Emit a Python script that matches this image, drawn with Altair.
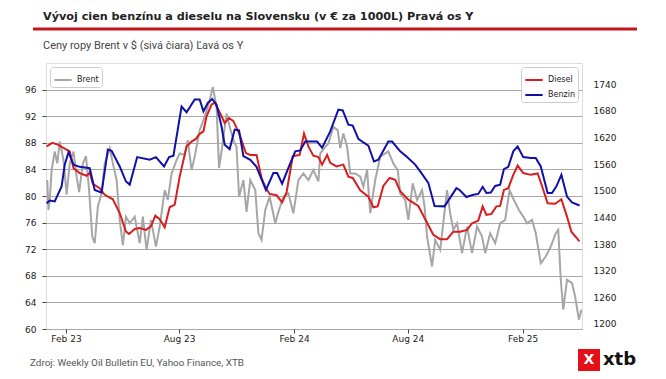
import altair as alt
import pandas as pd

TITLE = "Vývoj cien benzínu a dieselu na Slovensku (v € za 1000L) Pravá os Y"
SUBTITLE = "Ceny ropy Brent v $ (sivá čiara) Ľavá os Y"
SOURCE = "Zdroj: Weekly Oil Bulletin EU, Yahoo Finance, XTB"

benzin_dates = ["2023-01-01","2023-01-06","2023-01-14","2023-01-25","2023-01-30","2023-02-05","2023-02-13","2023-02-23",
    "2023-03-11","2023-03-19","2023-03-30","2023-04-09","2023-04-15","2023-04-28","2023-05-08","2023-05-14","2023-05-26",
    "2023-06-15","2023-06-25","2023-07-08","2023-07-16","2023-07-23","2023-08-05","2023-08-13","2023-08-26","2023-09-03",
    "2023-09-09","2023-09-16","2023-09-23","2023-09-30","2023-10-08","2023-10-13","2023-10-21","2023-10-29","2023-11-05",
    "2023-11-12","2023-11-23","2023-12-03","2023-12-18","2023-12-30","2024-01-05","2024-01-13","2024-01-24","2024-02-03",
    "2024-02-11","2024-02-19","2024-03-09","2024-03-17","2024-03-30","2024-04-12","2024-04-19","2024-04-28","2024-05-05",
    "2024-05-14","2024-05-22","2024-05-30","2024-06-08","2024-06-15","2024-07-01","2024-07-07","2024-07-20","2024-07-31",
    "2024-08-13","2024-08-21","2024-09-03","2024-09-13","2024-09-29","2024-10-18","2024-10-23","2024-11-03","2024-11-14",
    "2024-11-22","2024-11-29","2024-12-05","2024-12-12","2024-12-19","2024-12-27","2025-01-02","2025-01-09","2025-01-17",
    "2025-01-24","2025-02-02","2025-02-14","2025-02-22","2025-03-02","2025-03-13","2025-03-20","2025-03-27","2025-04-04",
    "2025-04-13","2025-04-21","2025-05-03"]
benzin_values = [1472,1478,1476,1510,1559,1587,1559,1554,1551,1502,1496,1593,1590,1555,1521,1514,1576,1570,1576,1555,
    1576,1579,1690,1677,1706,1706,1679,1698,1707,1694,1645,1604,1594,1638,1636,1578,1570,1554,1502,1540,1540,1516,1555,
    1589,1591,1611,1611,1597,1634,1683,1681,1649,1647,1617,1609,1602,1566,1570,1611,1611,1589,1576,1559,1544,1518,1466,
    1465,1506,1502,1486,1491,1493,1509,1495,1496,1511,1514,1549,1554,1589,1600,1576,1574,1574,1555,1495,1495,1510,1536,
    1487,1474,1467]

diesel_dates = ["2023-01-01","2023-01-10","2023-01-19","2023-01-25","2023-02-07","2023-02-13","2023-02-23","2023-03-06",
    "2023-03-11","2023-03-16","2023-03-27","2023-04-04","2023-04-17","2023-04-28","2023-05-08","2023-05-13","2023-05-22",
    "2023-05-30","2023-06-09","2023-06-17","2023-06-24","2023-07-01","2023-07-09","2023-07-17","2023-07-25","2023-08-02",
    "2023-08-13","2023-08-21","2023-08-28","2023-09-02","2023-09-09","2023-09-14","2023-09-22","2023-09-27","2023-10-05",
    "2023-10-13","2023-10-20","2023-10-27","2023-11-05","2023-11-16","2023-11-23","2023-12-03","2023-12-11","2023-12-18",
    "2023-12-24","2024-01-04","2024-01-13","2024-01-20","2024-01-30","2024-02-10","2024-02-17","2024-02-24","2024-03-03",
    "2024-03-11","2024-03-17","2024-03-25","2024-03-30","2024-04-09","2024-04-20","2024-04-28","2024-05-05","2024-05-17",
    "2024-05-30","2024-06-07","2024-06-14","2024-06-23","2024-07-03","2024-07-12","2024-07-20","2024-08-02","2024-08-18",
    "2024-08-29","2024-09-11","2024-09-22","2024-10-03","2024-10-13","2024-10-24","2024-11-04","2024-11-12","2024-11-22",
    "2024-11-29","2024-12-05","2024-12-13","2024-12-21","2024-12-27","2025-01-02","2025-01-09","2025-01-17","2025-01-24",
    "2025-02-02","2025-02-14","2025-02-25","2025-03-04","2025-03-13","2025-03-25","2025-04-04","2025-04-13","2025-04-20",
    "2025-05-03"]
diesel_values = [1600,1608,1604,1599,1589,1551,1540,1534,1541,1516,1506,1491,1481,1450,1408,1403,1414,1416,1412,1420,
    1444,1436,1418,1463,1469,1532,1600,1611,1617,1627,1634,1668,1694,1699,1677,1653,1664,1657,1630,1585,1581,1581,1529,
    1506,1493,1490,1474,1496,1578,1581,1629,1600,1579,1576,1559,1581,1563,1555,1559,1532,1529,1501,1487,1463,1465,1511,
    1529,1525,1499,1480,1466,1436,1401,1391,1391,1408,1408,1412,1427,1433,1465,1446,1448,1465,1466,1502,1506,1536,1557,
    1540,1536,1539,1511,1472,1471,1481,1442,1408,1386]

brent_dates = ["2023-01-02","2023-01-04","2023-01-06","2023-01-09","2023-01-14","2023-01-18","2023-01-22","2023-01-28",
    "2023-02-02","2023-02-07","2023-02-13","2023-02-18","2023-02-22","2023-02-28","2023-03-05","2023-03-10","2023-03-15",
    "2023-03-19","2023-03-24","2023-03-30","2023-04-04","2023-04-12","2023-04-17","2023-04-23","2023-04-28","2023-05-03",
    "2023-05-08","2023-05-14","2023-05-22","2023-05-30","2023-06-04","2023-06-10","2023-06-17","2023-06-25","2023-07-01",
    "2023-07-09","2023-07-14","2023-07-20","2023-07-28","2023-08-02","2023-08-10","2023-08-15","2023-08-21","2023-08-26",
    "2023-09-03","2023-09-11","2023-09-19","2023-09-24","2023-09-30","2023-10-04","2023-10-09","2023-10-16","2023-10-21",
    "2023-10-27","2023-11-01","2023-11-05","2023-11-12","2023-11-17","2023-11-23","2023-12-01","2023-12-06","2023-12-11",
    "2023-12-17","2023-12-24","2024-01-02","2024-01-07","2024-01-15","2024-01-23","2024-01-31","2024-02-08","2024-02-16",
    "2024-02-24","2024-03-03","2024-03-11","2024-03-14","2024-03-22","2024-03-27","2024-04-04","2024-04-11","2024-04-15",
    "2024-04-20","2024-04-26","2024-05-01","2024-05-09","2024-05-17","2024-05-22","2024-05-28","2024-06-02","2024-06-10",
    "2024-06-18","2024-06-26","2024-07-01","2024-07-09","2024-07-16","2024-07-20","2024-07-28","2024-08-02","2024-08-09",
    "2024-08-16","2024-08-24","2024-08-28","2024-09-01","2024-09-09","2024-09-14","2024-09-22","2024-10-03","2024-10-08",
    "2024-10-13","2024-10-19","2024-10-27","2024-11-04","2024-11-12","2024-11-20","2024-11-28","2024-12-03","2024-12-11",
    "2024-12-19","2024-12-27","2025-01-04","2025-01-11","2025-01-18","2025-01-26","2025-02-02","2025-02-08","2025-02-16",
    "2025-02-22","2025-03-02","2025-03-10","2025-03-18","2025-03-26","2025-03-30","2025-04-03","2025-04-07","2025-04-13",
    "2025-04-21","2025-04-26","2025-05-02","2025-05-06"]
brent_values = [82.4,77.9,79.4,83.9,86.7,84.9,88.2,85.4,80.2,84.9,86.7,82.9,80.6,84.9,86.0,80.9,73.9,72.9,78.4,80.4,
    84.9,87.2,84.9,82.4,76.4,72.6,76.9,75.9,76.9,72.9,76.9,71.9,76.4,72.4,75.4,80.9,79.4,83.4,85.4,86.4,86.2,88.4,83.9,
    85.9,89.9,91.9,94.4,96.4,93.4,84.2,87.4,92.4,90.4,88.4,87.4,79.9,82.4,77.6,82.4,80.9,74.4,73.4,77.9,79.9,75.9,77.6,
    79.9,80.4,77.4,82.4,83.4,82.4,83.9,82.2,86.4,87.4,87.9,90.4,89.9,87.2,89.4,87.4,83.4,83.4,82.9,81.4,83.9,77.4,82.4,
    85.9,86.4,86.7,84.9,83.9,80.4,79.4,76.4,81.9,79.4,80.9,78.4,73.9,69.4,73.4,71.9,80.9,77.4,74.9,75.9,71.4,75.4,71.4,
    75.4,73.9,71.4,74.4,72.9,75.9,76.4,80.9,79.4,77.9,76.9,75.9,76.4,74.4,69.9,70.9,72.4,74.4,74.9,67.4,62.9,67.4,66.9,
    64.9,61.4,62.9]

X_DOMAIN = ["2022-12-31", "2025-05-07"]
X_TICKS = [alt.DateTime(year=y, month=m, date=1, utc=True) for y, m in
           [(2023, 2), (2023, 8), (2024, 2), (2024, 8), (2025, 2)]]
LEFT_TICKS = [60, 64, 68, 72, 76, 80, 84, 88, 92, 96]
RIGHT_TICKS = [1200, 1260, 1320, 1380, 1440, 1500, 1560, 1620, 1680, 1740]

brent_df = pd.DataFrame({"date": brent_dates, "value": brent_values, "series": "Brent"})
fuel_df = pd.concat([
    pd.DataFrame({"date": diesel_dates, "value": diesel_values, "series": "Diesel"}),
    pd.DataFrame({"date": benzin_dates, "value": benzin_values, "series": "Benzin"}),
])

W, H = 536, 266
FONT = "DejaVu Sans"

x_enc = alt.X("date:T", scale=alt.Scale(type="utc", domain=X_DOMAIN),
              axis=alt.Axis(values=X_TICKS, labelExpr="utcFormat(datum.value, '%b %y')", title=None,
                            domain=False, grid=False, tickSize=4, tickColor="#444",
                            labelPadding=1, labelFontSize=9, labelFont=FONT, labelColor="#222"))

legend_common = dict(title=None, fillColor="white", strokeColor="#cccccc", cornerRadius=3,
                     padding=3, offset=4, symbolType="stroke", symbolStrokeWidth=2,
                     symbolSize=300, labelFontSize=8, labelFont=FONT, labelColor="#222",
                     rowPadding=1)

brent = alt.Chart(brent_df).mark_line(strokeWidth=2).encode(
    x=x_enc,
    y=alt.Y("value:Q", scale=alt.Scale(domain=[60, 100], nice=False, zero=False),
            axis=alt.Axis(values=LEFT_TICKS, title=None, orient="left", domain=False,
                          grid=True, gridColor="#a8a8a8", gridWidth=1, tickSize=4,
                          tickColor="#444", labelPadding=6, labelFontSize=9,
                          labelFont=FONT, labelColor="#222")),
    color=alt.Color("series:N", scale=alt.Scale(domain=["Brent"], range=["#a6a6a6"]),
                    legend=alt.Legend(orient="top-left", **legend_common)),
)

fuel = alt.Chart(fuel_df).mark_line(strokeWidth=2).encode(
    x=x_enc,
    y=alt.Y("value:Q", scale=alt.Scale(domain=[1188.7, 1788], nice=False, zero=False),
            axis=alt.Axis(values=RIGHT_TICKS, format="d", title=None, orient="right", domain=False,
                          grid=False, ticks=False, labelPadding=11, labelFontSize=9,
                          labelFont=FONT, labelColor="#222")),
    color=alt.Color("series:N", sort=["Diesel", "Benzin"],
                    scale=alt.Scale(domain=["Diesel", "Benzin"], range=["#d81e1e", "#1010a8"]),
                    legend=alt.Legend(orient="top-right", **legend_common)),
    detail="series:N",
)

txt = pd.DataFrame({"title": [TITLE], "subtitle": [SUBTITLE], "source": [SOURCE], "logo": ["xtb"], "mark": ["X"]})
base = alt.Chart(txt)

title = base.mark_text(align="left", baseline="alphabetic", font=FONT, fontSize=11.2,
                       fontWeight="bold", color="#222").encode(
    text="title:N", x=alt.value(-3), y=alt.value(-43))
rule = base.mark_rule(color="#c0161c", strokeWidth=3).encode(
    x=alt.value(-13), x2=alt.value(591), y=alt.value(-34))
subtitle = base.mark_text(align="left", baseline="middle", font="Roboto", fontSize=11,
                          color="#444").encode(
    text="subtitle:N", x=alt.value(-3), y=alt.value(-17))
source = base.mark_text(align="left", baseline="middle", font="Roboto", fontSize=9.9,
                        color="#555").encode(
    text="source:N", x=alt.value(-16), y=alt.value(300))
logo_box = base.mark_rect(color="#e3101a").encode(
    x=alt.value(532), x2=alt.value(554), y=alt.value(286), y2=alt.value(308))
logo_mark = base.mark_text(align="center", baseline="middle", font=FONT, fontSize=14,
                           fontWeight="bold", color="white").encode(
    text="mark:N", x=alt.value(543), y=alt.value(297))
logo_text = base.mark_text(align="left", baseline="middle", font=FONT, fontSize=18,
                           fontWeight="bold", color="#111").encode(
    text="logo:N", x=alt.value(557), y=alt.value(297))

chart = alt.layer(brent, fuel, title, rule, subtitle, source, logo_box, logo_mark, logo_text).resolve_scale(
    y="independent", color="independent"
).properties(
    width=W, height=H,
    padding={"left": 38, "top": 55, "right": 76, "bottom": 42},
    autosize=alt.AutoSizeParams(type="none"),
).configure_view(stroke="#555", strokeWidth=1).configure(background="white")

chart.save("out.html", embed_options={"renderer": "svg", "actions": False})
